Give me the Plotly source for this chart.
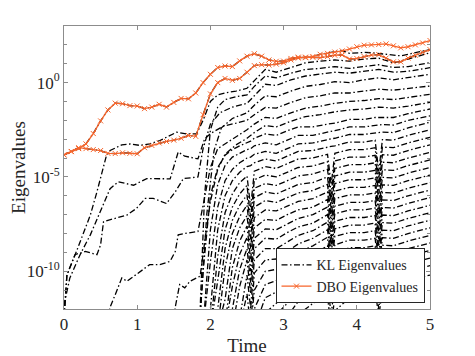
import plotly.graph_objects as go

# ---- data (log10 of eigenvalues) ----
t = [round(0.1 * i, 1) for i in range(51)]

dbo_1 = [-3.83, -3.66, -3.5, -3.25, -2.7, -2.03, -1.45, -1.09, -1.12, -1.22,
         -1.24, -1.38, -1.3, -1.15, -1.3, -1.05, -0.84, -0.86, -0.55, 0.0,
         0.44, 0.8, 0.88, 0.85, 1.15, 1.4, 1.53, 1.4, 1.2, 1.13,
         1.14, 1.28, 1.35, 1.32, 1.38, 1.5, 1.55, 1.62, 1.68, 1.78,
         1.9, 1.98, 2.0, 2.02, 2.05, 1.95, 1.84, 1.9, 2.0, 2.1, 2.23]
dbo_2 = [-3.83, -3.65, -3.45, -3.5, -3.55, -3.6, -3.75, -3.76, -3.72, -3.75,
         -3.77, -3.45, -3.33, -3.2, -3.12, -3.05, -2.95, -2.8, -2.85, -1.7,
         -0.6, 0.0, 0.22, 0.12, 0.22, 0.55, 0.9, 0.95, 0.93, 0.98,
         1.05, 1.2, 1.3, 1.35, 1.34, 1.32, 1.38, 1.45, 1.47, 1.25,
         1.28, 1.38, 1.46, 1.48, 1.3, 1.1, 1.1, 1.3, 1.45, 1.6, 1.75]

kl_1 = [-3.83, -3.66, -3.5, -3.25, -2.7, -2.03, -1.45, -1.09, -1.12, -1.22,
        -1.24, -1.38, -1.3, -1.15, -1.3, -1.05, -0.84, -0.86, -0.55, 0.0,
        0.44, 0.8, 0.88, 0.85, 1.15, 1.4, 1.53, 1.4, 1.2, 1.13,
        1.14, 1.28, 1.35, 1.32, 1.38, 1.5, 1.58, 1.66, 1.7, 1.55,
        1.58, 1.6, 1.58, 1.55, 1.5, 1.45, 1.42, 1.5, 1.58, 1.68, 1.75]
kl_2 = [-3.83, -3.65, -3.45, -3.5, -3.55, -3.6, -3.75, -3.76, -3.72, -3.75,
        -3.77, -3.45, -3.33, -3.2, -3.12, -3.05, -2.95, -2.8, -2.85, -1.7,
        -0.6, 0.0, 0.22, 0.12, 0.22, 0.55, 0.9, 0.95, 0.93, 0.98,
        1.05, 1.2, 1.3, 1.35, 1.34, 1.32, 1.38, 1.45, 1.47, 1.25,
        1.28, 1.38, 1.46, 1.48, 1.3, 1.1, 1.1, 1.3, 1.45, 1.6, 1.75]

# individual KL modes with their own time samples
kl_a_t = [0.0, 0.04, 0.17, 0.36, 0.45, 0.58, 0.63, 0.79, 0.9, 1.04, 1.17, 1.31,
          1.54, 1.68, 1.81, 1.9, 2.0, 2.1, 2.22, 2.35, 2.5, 2.6, 2.75, 2.9,
          3.1, 3.3, 3.5, 3.7, 3.9, 4.1, 4.3, 4.5, 4.7, 5.0]
kl_a = [-12.5, -10.2, -8.95, -7.02, -5.79, -3.86, -3.6, -3.3, -3.25, -3.33,
        -3.25, -3.07, -2.63, -2.72, -2.72, -2.0, -1.0, -0.65, -0.53, -0.45,
        -0.3, 0.1, 0.7, 0.55, 0.8, 1.05, 1.14, 1.2, 1.14, 1.25, 1.3, 1.05,
        1.25, 1.58]

kl_h_t = [1.85, 1.92, 2.0, 2.1, 2.2, 2.35, 2.5, 2.6, 2.75, 2.9, 3.1, 3.3, 3.5,
          3.7, 3.9, 4.1, 4.3, 4.5, 4.7, 5.0]
kl_h = [-13, -6, -2.5, -1.3, -0.9, -0.75, -0.65, -0.2, 0.35, 0.25, 0.5, 0.7,
        0.75, 0.85, 0.75, 0.85, 0.95, 0.8, 0.85, 1.05]

kl_b_t = [0.0, 0.04, 0.15, 0.29, 0.45, 0.5, 0.54, 0.7, 0.86, 0.99, 1.11, 1.22,
          1.4, 1.52, 1.63, 1.83, 1.9, 2.0, 2.13, 2.3, 2.5, 2.6, 2.75, 2.9,
          3.1, 3.3, 3.5, 3.7, 3.9, 4.1, 4.3, 4.5, 4.7, 5.0]
kl_b = [-12.5, -10.18, -9.12, -8.95, -9.12, -8.6, -7.37, -7.19, -7.02, -6.67,
        -6.14, -6.14, -6.41, -5.79, -5.09, -5.0, -3.5, -2.2, -1.6, -1.3,
        -1.1, -0.7, -0.09, -0.15, 0.15, 0.35, 0.45, 0.55, 0.5, 0.6, 0.7, 0.55,
        0.6, 0.79]

kl_g_t = [1.85, 1.95, 2.05, 2.15, 2.3, 2.5, 2.6, 2.75, 2.9, 3.1, 3.3, 3.5, 3.7,
          3.9, 4.1, 4.3, 4.5, 4.7, 5.0]
kl_g = [-13, -7, -3.6, -2.4, -1.9, -1.6, -1.2, -0.7, -0.75, -0.45, -0.2, -0.1,
        0.05, 0.0, 0.15, 0.25, 0.15, 0.25, 0.44]

kl_c_t = [0.0, 0.01, 0.08, 0.22, 0.36, 0.49, 0.63, 0.74, 0.95, 1.13, 1.31,
          1.45, 1.56, 1.65, 1.83, 1.92, 2.0, 2.18, 2.35, 2.5, 2.6, 2.75, 2.9,
          3.1, 3.3, 3.5, 3.7, 3.9, 4.1, 4.3, 4.5, 4.7, 5.0]
kl_c = [-12.5, -11.6, -10.35, -9.12, -8.07, -6.84, -5.62, -5.26, -5.44, -5.09,
        -5.09, -5.1, -3.68, -3.9, -4.04, -3.0, -2.7, -2.3, -2.15, -2.0, -1.7,
        -1.32, -1.35, -1.05, -0.8, -0.7, -0.55, -0.55, -0.45, -0.35, -0.4,
        -0.3, -0.18]

kl_d_t = [0.6, 0.63, 0.72, 0.79, 0.86, 1.04, 1.17, 1.31, 1.45, 1.52, 1.56,
          1.68, 1.83, 1.9, 2.0, 2.1, 2.3, 2.5, 2.6, 2.75, 2.9, 3.1, 3.3, 3.5,
          3.7, 3.9, 4.1, 4.3, 4.5, 4.7, 5.0]
kl_d = [-12.5, -11.9, -11.05, -10.35, -10.53, -10.0, -9.65, -9.65, -9.47,
        -8.95, -8.07, -7.98, -7.89, -6.5, -4.5, -3.5, -3.0, -2.5, -2.2, -1.84,
        -1.9, -1.6, -1.35, -1.25, -1.1, -1.0, -0.95, -0.85, -0.9, -0.8, -0.62]

kl_e_t = [1.5, 1.52, 1.58, 1.65, 1.72, 1.86, 1.92, 2.0, 2.1, 2.2, 2.35, 2.5,
          2.6, 2.75, 2.9, 3.1, 3.3, 3.5, 3.7, 3.9, 4.1, 4.3, 4.5, 4.7, 5.0]
kl_e = [-12.5, -11.9, -10.7, -10.88, -10.53, -10.26, -8.5, -6.3, -4.6, -3.8,
        -3.3, -2.95, -2.65, -2.28, -2.35, -2.05, -1.8, -1.7, -1.55, -1.45,
        -1.4, -1.3, -1.35, -1.25, -1.05]

# the fan of lower KL modes, all sampled on one grid
fan_t = [1.85, 1.9, 2.0, 2.1, 2.2, 2.3, 2.4, 2.5, 2.55, 2.6, 2.75, 2.9, 3.05,
         3.2, 3.4, 3.6, 3.65, 3.7, 3.9, 4.1, 4.25, 4.3, 4.35, 4.5, 4.7, 5.0]
fan = [
    [-13, -10, -6.0, -4.5, -3.85, -3.55, -3.35, -3.2, -3.1, -2.95, -2.72, -2.8, -2.55, -2.35, -2.35, -2.2, -2.18, -2.15, -1.95, -1.95, -1.85, -1.85, -1.83, -1.85, -1.65, -1.4],
    [-13, -13, -7.8, -5.4, -4.4, -3.95, -3.75, -3.55, -3.5, -3.35, -3.2, -3.3, -3.05, -2.8, -2.8, -2.6, -2.58, -2.55, -2.35, -2.35, -2.25, -2.25, -2.22, -2.25, -2.0, -1.76],
    [-13, -13, -9.5, -6.6, -5.2, -4.6, -4.25, -4.0, -3.95, -3.8, -3.65, -3.75, -3.5, -3.25, -3.2, -3.0, -2.98, -2.95, -2.75, -2.75, -2.65, -2.65, -2.62, -2.65, -2.4, -2.1],
    [-13, -13, -12, -7.8, -6.0, -5.2, -4.75, -4.45, -4.4, -4.25, -4.05, -4.15, -3.9, -3.65, -3.6, -3.4, -3.38, -3.35, -3.15, -3.15, -3.05, -4.7, -3.02, -3.05, -2.8, -2.5],
    [-13, -13, -13, -9.2, -6.9, -5.9, -5.3, -4.95, -6.6, -4.7, -4.45, -4.55, -4.3, -4.05, -4.0, -3.8, -5.4, -3.75, -3.55, -3.55, -3.45, -5.1, -3.42, -3.45, -3.2, -2.9],
    [-13, -13, -13, -10.5, -7.8, -6.6, -5.9, -5.45, -7.2, -5.15, -4.9, -5.0, -4.75, -4.5, -4.42, -4.2, -5.9, -4.15, -3.95, -3.95, -3.85, -5.5, -3.82, -3.85, -3.6, -3.3],
    [-13, -13, -13, -12, -8.8, -7.3, -6.5, -5.95, -7.7, -5.6, -5.35, -5.45, -5.2, -4.95, -4.85, -4.6, -6.3, -4.55, -4.35, -4.35, -4.25, -5.9, -4.22, -4.25, -4.0, -3.7],
    [-13, -13, -13, -13, -9.8, -8.0, -7.1, -6.5, -8.3, -6.1, -5.8, -5.9, -5.65, -5.4, -5.3, -5.0, -6.7, -4.95, -4.75, -4.75, -4.65, -6.3, -4.62, -4.65, -4.4, -4.1],
    [-13, -13, -13, -13, -11.5, -8.8, -7.7, -7.05, -8.8, -6.6, -6.25, -6.35, -6.1, -5.85, -5.72, -5.4, -7.1, -5.35, -5.15, -5.15, -5.05, -6.7, -5.02, -5.05, -4.8, -4.5],
    [-13, -13, -13, -13, -12.8, -9.8, -8.4, -7.6, -9.4, -7.15, -6.75, -6.8, -6.55, -6.3, -6.15, -5.8, -7.5, -5.75, -5.55, -5.55, -5.45, -7.1, -5.42, -5.45, -5.2, -4.9],
    [-13, -13, -13, -13, -13, -10.8, -9.1, -8.2, -10.0, -7.7, -7.25, -7.3, -7.0, -6.75, -6.6, -6.2, -7.9, -6.15, -5.95, -5.95, -5.85, -7.5, -5.82, -5.85, -5.6, -5.3],
    [-13, -13, -13, -13, -13, -12, -9.9, -8.8, -10.6, -8.25, -7.75, -7.8, -7.5, -7.2, -7.0, -6.6, -8.3, -6.55, -6.35, -6.35, -6.25, -7.9, -6.22, -6.25, -6.0, -5.7],
    [-13, -13, -13, -13, -13, -13, -10.8, -9.4, -11.2, -8.8, -8.25, -8.3, -7.95, -7.65, -7.45, -7.0, -8.7, -6.95, -6.75, -6.75, -6.65, -8.3, -6.62, -6.65, -6.4, -6.1],
    [-13, -13, -13, -13, -13, -13, -12.5, -10.2, -12.0, -9.4, -8.8, -8.8, -8.45, -8.1, -7.85, -7.4, -9.1, -7.35, -7.15, -7.15, -7.05, -8.7, -7.02, -7.05, -6.8, -6.5],
    [-13, -13, -13, -13, -13, -13, -13, -11.2, -13, -10.1, -9.4, -9.35, -8.95, -8.55, -8.25, -7.8, -9.5, -7.75, -7.55, -7.55, -7.45, -9.1, -7.42, -7.45, -7.2, -6.9],
    [-13, -13, -13, -13, -13, -13, -13, -12.5, -13, -11.0, -10.0, -9.9, -9.45, -9.0, -8.65, -8.2, -9.9, -8.15, -7.95, -7.95, -7.85, -9.5, -7.82, -7.85, -7.6, -7.3],
    [-13, -13, -13, -13, -13, -13, -13, -13, -13, -12.0, -10.7, -10.5, -10.0, -9.5, -9.1, -8.65, -10.3, -8.6, -8.35, -8.35, -8.25, -9.9, -8.22, -8.25, -8.0, -7.7],
    [-13, -13, -13, -13, -13, -13, -13, -13, -13, -13, -11.4, -11.1, -10.55, -10.0, -9.55, -9.1, -10.8, -9.05, -8.75, -8.75, -8.65, -10.3, -8.62, -8.65, -8.4, -8.1],
    [-13, -13, -13, -13, -13, -13, -13, -13, -13, -13, -12.2, -11.7, -11.1, -10.5, -10.0, -9.55, -11.2, -9.5, -9.15, -9.15, -9.05, -10.7, -9.02, -9.05, -8.8, -8.5],
    [-13, -13, -13, -13, -13, -13, -13, -13, -13, -13, -13, -12.3, -11.7, -11.0, -10.5, -10.05, -11.7, -10.0, -9.6, -9.55, -9.45, -11.1, -9.42, -9.6, -9.2, -8.9],
    [-13, -13, -13, -13, -13, -13, -13, -13, -13, -13, -13, -13, -12.4, -11.6, -11.0, -10.65, -12.3, -10.6, -10.1, -10.0, -9.9, -11.5, -9.85, -10.2, -9.6, -9.3],
    [-13, -13, -13, -13, -13, -13, -13, -13, -13, -13, -13, -13, -13, -12.3, -11.7, -11.35, -13, -11.3, -10.7, -10.5, -10.35, -12.0, -10.3, -10.6, -10.0, -9.7],
    [-13, -13, -13, -13, -13, -13, -13, -13, -13, -13, -13, -13, -13, -13, -12.6, -12.2, -13, -12.1, -11.4, -11.0, -10.85, -12.5, -10.8, -11.0, -10.5, -10.2],
]

labelled_decades = [-10, -5, 0]
all_decades = list(range(-12, 4))

ORANGE = "#F7652B"
KL_DASH = "6px,2.5px,1.5px,2.5px"
FONT = "Liberation Serif"


def pow10(vals):
    return [10 ** v for v in vals]


kl_modes = [(t, kl_1), (t, kl_2), (kl_a_t, kl_a), (kl_h_t, kl_h),
            (kl_b_t, kl_b), (kl_g_t, kl_g), (kl_c_t, kl_c), (kl_d_t, kl_d),
            (kl_e_t, kl_e)] + [(fan_t, row) for row in fan]

fig = go.Figure()

for i, (xs, ys) in enumerate(kl_modes):
    fig.add_trace(go.Scatter(
        x=xs, y=pow10(ys), mode="lines",
        name="KL Eigenvalues", legendgroup="kl",
        showlegend=(i == 0),
        line=dict(color="black", width=1.3, dash=KL_DASH),
    ))

for i, ys in enumerate([dbo_1, dbo_2]):
    fig.add_trace(go.Scatter(
        x=t, y=pow10(ys), mode="lines+markers",
        name="DBO Eigenvalues", legendgroup="dbo",
        showlegend=(i == 0),
        line=dict(color=ORANGE, width=1.3),
        marker=dict(symbol="x-thin", size=5,
                    line=dict(color=ORANGE, width=1)),
    ))

# the page body adds an 8px offset, so the figure is sized to fit the window
fig.update_layout(
    width=467, height=348,
    margin=dict(l=56, r=45, t=18, b=47),
    paper_bgcolor="white", plot_bgcolor="white",
    font=dict(family=FONT, size=17, color="#262626"),
    showlegend=True,
    legend=dict(
        x=0.985, y=0.02, xanchor="right", yanchor="bottom",
        bgcolor="white", bordercolor="#262626", borderwidth=1,
        font=dict(family=FONT, size=14, color="#262626"),
        tracegroupgap=0, itemwidth=30,
    ),
    xaxis=dict(
        range=[0, 5], tickvals=[0, 1, 2, 3, 4, 5], automargin=False,
        ticks="inside", ticklen=4, tickcolor="#8c8c8c",
        showline=True, linecolor="#8c8c8c", linewidth=1, mirror="ticks",
        showgrid=False, zeroline=False,
        title=dict(text="Time", font=dict(size=19), standoff=10),
    ),
    yaxis=dict(
        type="log", range=[-12, 3], automargin=False,
        tickvals=[10 ** d for d in labelled_decades],
        ticktext=[f"10<sup>{d}</sup>" for d in labelled_decades],
        ticks="inside", ticklen=4, tickcolor="#8c8c8c",
        minor=dict(tickmode="array",
                   tickvals=[10 ** d for d in all_decades],
                   ticks="inside", ticklen=3, tickcolor="#8c8c8c"),
        showline=True, linecolor="#8c8c8c", linewidth=1, mirror="ticks",
        showgrid=False, zeroline=False,
        title=dict(text="Eigenvalues", font=dict(size=19), standoff=9),
    ),
)

fig.write_html("out.html")
